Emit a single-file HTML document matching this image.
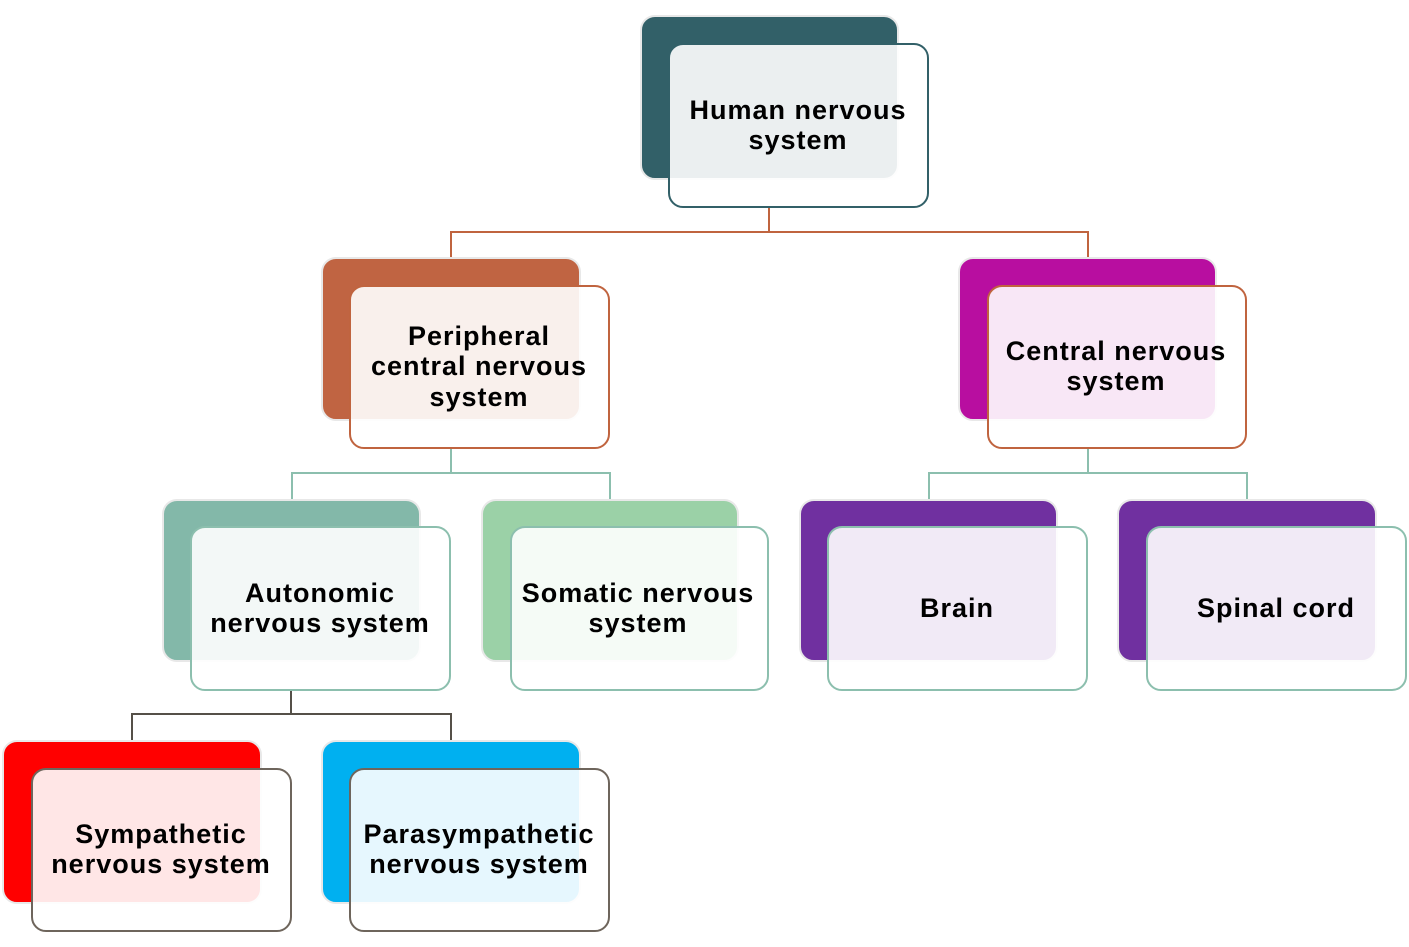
<!DOCTYPE html>
<html><head><meta charset="utf-8"><style>
html,body{margin:0;padding:0;background:#fff;}
svg{display:block;}
text{font-family:"Liberation Sans",sans-serif;font-weight:bold;font-size:27px;letter-spacing:1px;fill:#000;text-anchor:middle;}
</style></head><body>
<svg width="1409" height="947" viewBox="0 0 1409 947">
<g fill="none" stroke-width="2">
<path d="M769 207V232M451 258V232H1088V258" stroke="#c0643f"/>
<path d="M451 448V473M292 500V473H610V500" stroke="#8cbfae"/>
<path d="M1088 448V473M929 500V473H1247V500" stroke="#8cbfae"/>
<path d="M291 690V714M132 741V714H451V741" stroke="#555048"/>
</g>
<g stroke="#e8e8e8" stroke-width="2">
<rect x="641" y="16" width="257" height="163" rx="14" fill="#326068"/>
<rect x="322" y="258" width="258" height="162" rx="14" fill="#c06442"/>
<rect x="959" y="258" width="257" height="162" rx="14" fill="#b80ea0"/>
<rect x="163" y="500" width="257" height="161" rx="14" fill="#83b8a9"/>
<rect x="482" y="500" width="256" height="161" rx="14" fill="#9bd1a7"/>
<rect x="800" y="500" width="257" height="161" rx="14" fill="#7030a0"/>
<rect x="1118" y="500" width="258" height="161" rx="14" fill="#7030a0"/>
<rect x="3" y="741" width="258" height="162" rx="14" fill="#ff0000"/>
<rect x="322" y="741" width="258" height="162" rx="14" fill="#00b0f0"/>
</g>
<g stroke-width="2" fill="#fff" fill-opacity="0.9">
<rect x="669" y="44" width="259" height="163" rx="14" stroke="#326068"/>
<rect x="350" y="286" width="259" height="162" rx="14" stroke="#c0643f"/>
<rect x="988" y="286" width="258" height="162" rx="14" stroke="#c0643f"/>
<rect x="191" y="527" width="259" height="163" rx="14" stroke="#8cbfae"/>
<rect x="511" y="527" width="257" height="163" rx="14" stroke="#8cbfae"/>
<rect x="828" y="527" width="259" height="163" rx="14" stroke="#8cbfae"/>
<rect x="1147" y="527" width="259" height="163" rx="14" stroke="#8cbfae"/>
<rect x="32" y="769" width="259" height="162" rx="14" stroke="#6e655c"/>
<rect x="350" y="769" width="259" height="162" rx="14" stroke="#6e655c"/>
</g>
<text x="798" y="119">Human nervous</text><text x="798" y="149">system</text>
<text x="479" y="345">Peripheral</text><text x="479" y="375">central nervous</text><text x="479" y="406">system</text>
<text x="1116" y="360">Central nervous</text><text x="1116" y="390">system</text>
<text x="320" y="602">Autonomic</text><text x="320" y="632">nervous system</text>
<text x="638" y="602">Somatic nervous</text><text x="638" y="632">system</text>
<text x="957" y="617">Brain</text>
<text x="1276" y="617">Spinal cord</text>
<text x="161" y="843">Sympathetic</text><text x="161" y="873">nervous system</text>
<text x="479" y="843">Parasympathetic</text><text x="479" y="873">nervous system</text>
</svg>
</body></html>
